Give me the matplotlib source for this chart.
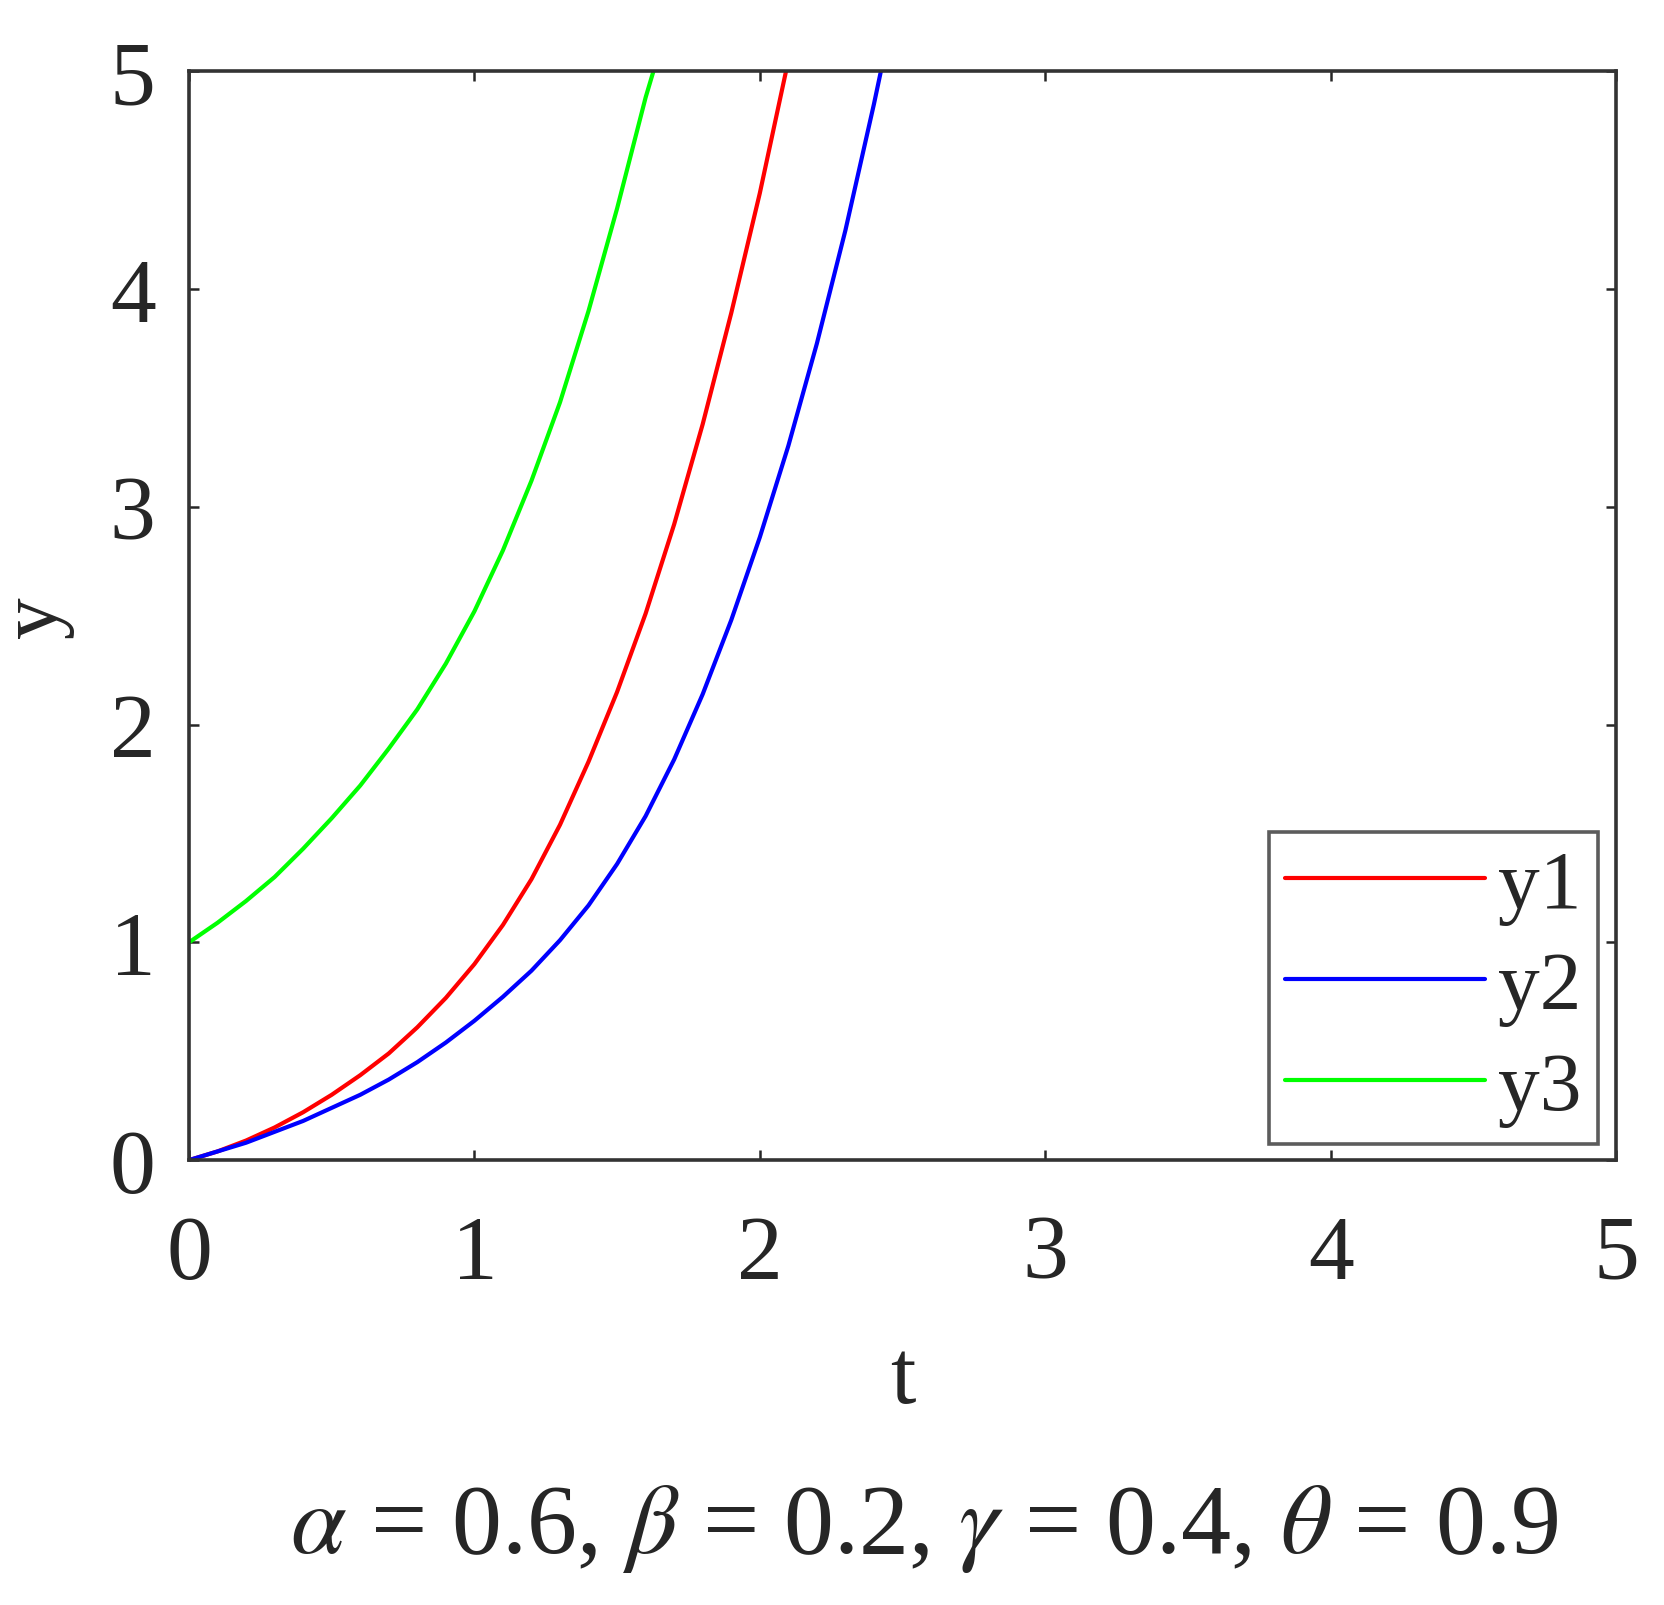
import matplotlib
matplotlib.use("Agg")
import matplotlib.pyplot as plt

plt.rcParams['font.family'] = ['Liberation Serif', 'DejaVu Serif']
plt.rcParams['mathtext.fontset'] = 'stix'

t1 = [0.0, 0.1, 0.2, 0.3, 0.4, 0.5, 0.6, 0.7, 0.8, 0.9, 1.0, 1.1, 1.2, 1.3, 1.4,
      1.5, 1.6, 1.7, 1.8, 1.9, 2.0, 2.1]
y1 = [0.0, 0.04, 0.09, 0.15, 0.22, 0.30, 0.39, 0.49, 0.61, 0.745, 0.90, 1.08, 1.29,
      1.54, 1.83, 2.15, 2.51, 2.92, 3.38, 3.89, 4.44, 5.05]

t2 = [0.0, 0.1, 0.2, 0.3, 0.4, 0.5, 0.6, 0.7, 0.8, 0.9, 1.0, 1.1, 1.2, 1.3, 1.4,
      1.5, 1.6, 1.7, 1.8, 1.9, 2.0, 2.1, 2.2, 2.3, 2.4, 2.45]
y2 = [0.0, 0.04, 0.08, 0.13, 0.18, 0.24, 0.30, 0.37, 0.45, 0.54, 0.64, 0.75, 0.87,
      1.01, 1.17, 1.36, 1.58, 1.84, 2.14, 2.48, 2.86, 3.28, 3.75, 4.27, 4.85, 5.16]

t3 = [0.0, 0.1, 0.2, 0.3, 0.4, 0.5, 0.6, 0.7, 0.8, 0.9, 1.0, 1.1, 1.2, 1.3, 1.4,
      1.5, 1.6, 1.65]
y3 = [1.0, 1.09, 1.19, 1.30, 1.43, 1.57, 1.72, 1.89, 2.07, 2.28, 2.52, 2.80, 3.12,
      3.48, 3.90, 4.37, 4.88, 5.10]

series_labels = ['y1', 'y2', 'y3']
colors = ['#ff0000', '#0000ff', '#00ff00']
ticks = [0, 1, 2, 3, 4, 5]
param_text = r'$\alpha$ = 0.6, $\beta$ = 0.2, $\gamma$ = 0.4, $\theta$ = 0.9'

fig = plt.figure(figsize=(16.65, 16.06), dpi=100)
ax = fig.add_axes([0.1135, 0.277, 0.9706 - 0.1135, 0.955 - 0.277])

for t, y, c, lab in zip([t1, t2, t3], [y1, y2, y3], colors, series_labels):
    ax.plot(t, y, color=c, lw=3.0, label=lab, solid_capstyle='round',
            solid_joinstyle='round')

ax.set_xlim(0, 5)
ax.set_ylim(0, 5)
ax.set_xticks(ticks)
ax.set_yticks(ticks)
ax.tick_params(direction='in', length=7, width=1.8, top=True, right=True,
               labelsize=66, colors='#262626')
ax.tick_params(axis='x', pad=39)
ax.tick_params(axis='y', pad=24)
for sp in ax.spines.values():
    sp.set_linewidth(2.6)
    sp.set_color('#333333')

ax.set_xlabel('t', fontsize=66, color='#262626', labelpad=30)
ax.set_ylabel('y', fontsize=60, color='#262626', labelpad=26)

leg = ax.legend(loc='lower right', bbox_to_anchor=(0.9598, 0.287),
                bbox_transform=fig.transFigure, fontsize=60, frameon=True,
                fancybox=False, handlelength=2.4, handletextpad=0.15,
                labelspacing=0.3, borderpad=0.2, borderaxespad=0)
leg.get_frame().set_edgecolor('#333333')
leg.get_frame().set_linewidth(2.6)
for txt in leg.get_texts():
    txt.set_color('#262626')

fig.text(0.555, 0.033, param_text, fontsize=72, ha='center', va='baseline',
         color='#262626')

fig.savefig('out.png', dpi=100, facecolor='white')
